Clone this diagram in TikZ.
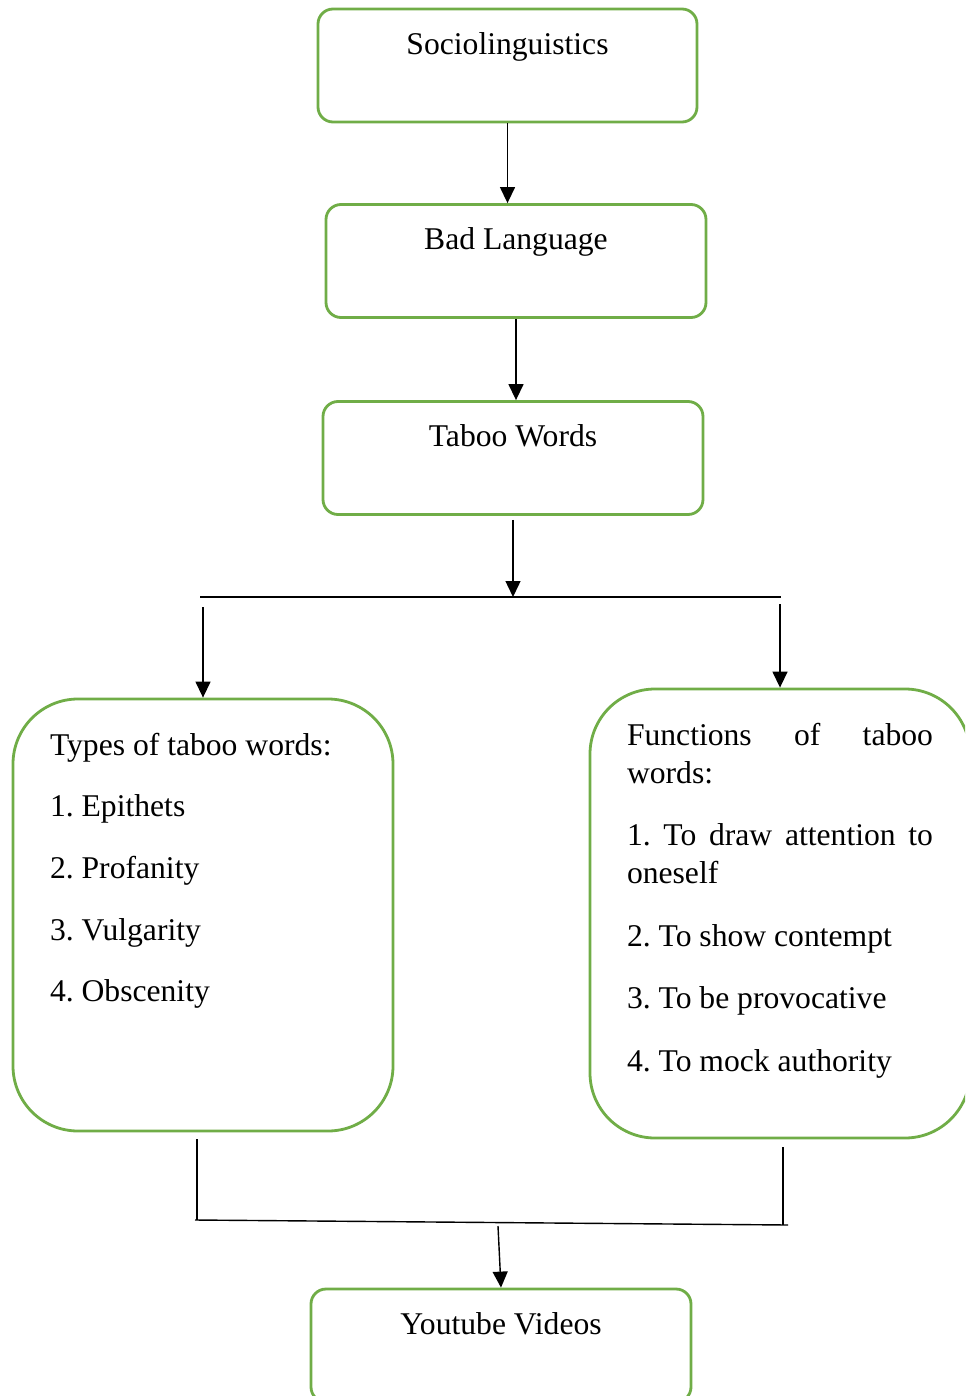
\documentclass[tikz,border=0pt]{standalone}
\usepackage{fontspec}
\setmainfont{Liberation Serif}
\usetikzlibrary{arrows.meta}
\frenchspacing

\definecolor{boxgreen}{RGB}{112,173,71}

\tikzset{
  titlebox/.style={draw=boxgreen, line width=1.6pt, rounded corners=0.3cm,
    inner xsep=0pt, inner ysep=0.37cm, font=\fontsize{18}{21.6}\selectfont},
  listbox/.style={draw=boxgreen, line width=1.6pt, rounded corners=1.3cm,
    inner xsep=0.74cm, inner ysep=0.59cm, font=\fontsize{18}{21.6}\selectfont},
  arrow/.style={-{Triangle[length=0.32cm,width=0.3cm]}, line width=0.8pt},
  link/.style={line width=0.8pt}
}

\begin{document}
\begin{tikzpicture}
    \path[use as bounding box, clip] (0,0) rectangle (19.3,-27.92);

    % Top chain
    \node[titlebox] (soc) at (10.15,-1.31)
        {\parbox[t][1.52cm][t]{7.58cm}{\centering\strut Sociolinguistics}};
    \node[titlebox] (bad) at (10.32,-5.22)
        {\parbox[t][1.52cm][t]{7.6cm}{\centering\strut Bad Language}};
    \node[titlebox] (taboo) at (10.26,-9.16)
        {\parbox[t][1.52cm][t]{7.6cm}{\centering\strut Taboo Words}};

    % Two lists
    \node[listbox] (types) at (4.06,-18.3)
        {\parbox[t][7.46cm][t]{6.12cm}{\strut Types of taboo words:\\[13.5pt]
          1. Epithets\\[13.5pt]
          2. Profanity\\[13.5pt]
          3. Vulgarity\\[13.5pt]
          4. Obscenity}};
    \node[listbox] (func) at (15.6,-18.27)
        {\parbox[t][7.8cm][t]{6.12cm}{\strut Functions\hfill of\hfill taboo\\
          words:\\[14pt]
          1.\hfill To\hfill draw\hfill attention\hfill to\\
          oneself\\[14pt]
          2. To show contempt\\[14pt]
          3. To be provocative\\[14pt]
          4. To mock authority}};

    % Result
    \node[titlebox] (you) at (10.02,-26.91)
        {\parbox[t][1.52cm][t]{7.6cm}{\centering\strut Youtube Videos}};

    % Split and merge points
    \coordinate (splitL) at (4.0,-11.94);
    \coordinate (splitR) at (15.62,-11.94);
    \coordinate (mergeL) at (3.9,-24.4);
    \coordinate (mergeR) at (15.76,-24.5);
    \coordinate (mergeMid) at (9.96,-24.52);

    % Connectors
    \draw[arrow] (soc.south) -- (soc.south |- bad.north);
    \draw[arrow] (bad.south) -- (bad.south |- taboo.north);
    \draw[arrow] ([yshift=-0.08cm]taboo.south) -- (taboo.south |- splitL);
    \draw[link] (splitL) -- (splitR);
    \draw[arrow] ([yshift=-0.2cm]splitL -| types.north) -- (types.north);
    \draw[arrow] ([yshift=-0.14cm]splitR -| func.north) -- (func.north);
    \draw[link] ([xshift=-0.12cm,yshift=-0.14cm]types.south) -- ++(0,-1.62);
    \draw[link] ([xshift=0.06cm,yshift=-0.16cm]func.south) -- ++(0,-1.56);
    \draw[link] (mergeL) -- (mergeR);
    \draw[arrow] (mergeMid) -- (you.north);
\end{tikzpicture}
\end{document}
